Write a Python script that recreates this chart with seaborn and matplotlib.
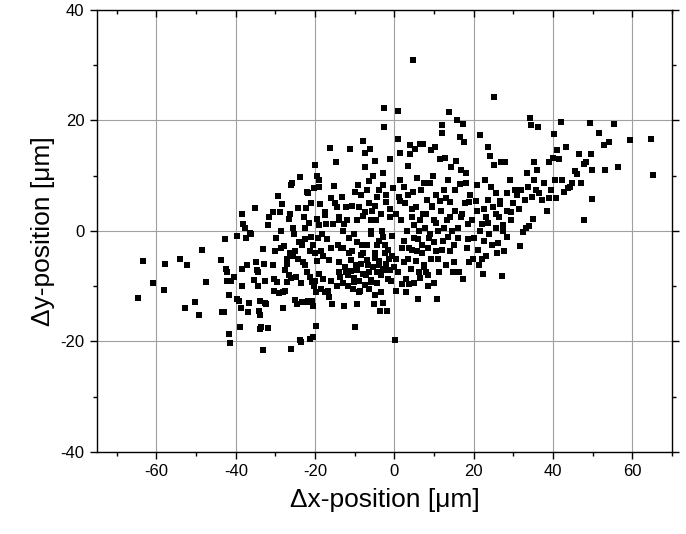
import numpy as np
import pandas as pd
import matplotlib
matplotlib.use("Agg")
import matplotlib.pyplot as plt
import matplotlib.lines as mlines
import seaborn as sns
from matplotlib.ticker import MultipleLocator

# left wing, x < -30
dx_a = [-64.6, -63.3, -60.8, -58.1, -57.8, -54.0, -52.9, -52.3, -50.2, -49.3,
        -48.5, -47.4, -43.8, -43.6, -43.1, -42.7, -42.5, -42.3, -42.3, -41.7,
        -41.7, -41.4, -41.2, -40.5, -39.8, -39.8, -39.2, -39.0, -38.7, -38.4,
        -38.4, -38.4, -38.1, -37.8, -37.5, -37.3, -37.0, -36.7, -36.5, -36.2,
        -35.4, -35.1, -34.9, -34.6, -34.5, -34.3, -34.1, -34.0, -33.8, -33.8,
        -33.6, -33.2, -33.1, -32.9, -32.7, -32.7, -32.4, -32.0, -31.8, -31.6,
        -30.7, -30.5, -30.4, -30.3, -30.2]
dy_a = [-12.2, -5.4, -9.5, -10.6, -5.9, -5.1, -14.0, -6.2, -12.9, -15.2,
        -3.4, -9.2, -5.3, -14.6, -14.7, -1.5, -6.8, -7.4, -9.0, -11.5,
        -18.6, -20.3, -9.0, -8.4, -12.4, -0.9, -12.7, -17.3, -13.9, -9.9,
        3.1, -6.9, 1.2, 0.5, -1.2, -6.2, -14.6, -13.0, -0.3, -0.6,
        -8.8, 4.1, -5.6, -7.1, -7.4, -9.9, -14.4, -15.2, -17.8, -12.7,
        -17.3, -3.3, -21.5, -5.9, -9.0, -13.0, -13.3, -17.6, 1.1, 2.5,
        3.5, -6.2, -8.7, -10.8, -3.7]

# -30 <= x < -15
dx_b = [-29.9, -29.6, -29.4, -29.2, -28.9, -28.5, -28.3, -28.1, -27.8, -27.7,
        -27.5, -27.2, -27.0, -26.7, -26.6, -26.4, -26.3, -26.1, -26.1, -25.9,
        -25.6, -25.2, -25.0, -24.8, -24.5, -24.4, -24.2, -23.9, -23.7, -23.5,
        -23.4, -23.3, -23.1, -22.9, -22.6, -22.5, -22.3, -22.1, -21.7, -21.7,
        -21.5, -21.3, -21.3, -21.2, -21.1, -20.9, -20.7, -20.5, -20.5, -20.3,
        -20.2, -20.1, -20.0, -19.8, -19.8, -19.6, -19.6, -19.3, -19.1, -19.0,
        -18.9, -18.7, -18.5, -18.3, -17.9, -17.6, -17.4, -17.2, -16.8, -16.5,
        -16.3, -16.1, -15.8, -15.6, -15.2, -15.0, -19.5, -18.0, -17.0, -16.0,
        -17.5, -16.0, -19.0, -21.0, -22.5, -24.0, -25.5, -27.0, -28.5, -26.0,
        -23.5, -22.0, -20.0, -18.5, -16.5, -28.0, -25.0, -22.0, -20.5]
dy_b = [-1.2, -9.2, 6.4, -11.3, 3.4, 0.0, 4.8, -11.1, -2.8, -10.9,
        -7.1, -5.0, -9.3, 2.2, -8.0, 3.0, -4.0, -21.3, 8.4, 8.7,
        0.6, -0.5, -3.7, -8.4, -13.3, -5.0, 4.1, 9.7, -19.8, -20.1,
        -12.9, -2.5, -5.6, 2.5, -6.2, -1.5, 4.1, 7.1, -12.7, 6.8,
        1.5, -8.4, -19.5, -3.7, 5.0, -12.7, -9.3, -19.2, -2.5, -9.9,
        7.7, -4.0, 12.0, -17.2, -11.1, 2.2, 10.0, -1.2, -7.7, 9.3,
        7.9, 4.8, -3.7, -0.6, -8.7, -11.1, 2.9, 1.2, -10.8, -5.3,
        15.0, -9.0, -13.3, 1.2, 8.2, 5.0, -5.5, -4.5, -1.5, -3.0,
        3.5, 6.0, 1.0, -1.0, 0.5, -2.0, -4.5, -6.0, -3.0, -8.5,
        -9.5, -7.5, -9.0, -10.5, -12.0, -14.0, -12.5, -12.8, -13.5]

# -15 <= x < 0
dx_c = [-14.8, -14.6, -14.3, -14.1, -13.9, -13.6, -13.2, -13.0, -12.8, -12.6,
        -12.3, -12.1, -11.9, -11.7, -11.4, -11.1, -11.0, -10.8, -10.6, -10.3,
        -10.2, -9.9, -9.7, -9.5, -9.4, -9.2, -8.9, -8.6, -8.4, -8.2,
        -8.0, -7.8, -7.5, -7.3, -7.1, -7.0, -6.7, -6.4, -6.2, -5.9,
        -5.8, -5.6, -5.4, -5.1, -4.9, -4.8, -4.6, -4.5, -4.3, -4.0,
        -3.8, -3.6, -3.4, -3.2, -2.9, -2.8, -2.6, -2.6, -2.5, -2.3,
        -2.1, -1.9, -1.6, -1.4, -1.2, -1.0, -0.8, -0.5, -0.3,
        -12.5, -11.8, -11.0, -10.2, -9.5, -9.0, -8.5, -8.0, -7.5, -7.0,
        -6.5, -6.0, -5.5, -5.0, -4.5, -4.0, -3.5, -3.0, -2.5, -2.0,
        -1.5, -1.0, -0.5, -0.2, -13.0, -14.0, -10.5, -9.0, -6.5, -5.0,
        -8.0, -7.0, -4.5, -3.0, -6.0, -9.5, -11.5, -13.5, -13.0, -14.0,
        -7.5, -6.0, -5.0, -3.5, -2.0, -1.0, -4.0, -8.5, -10.0, -6.5,
        -3.0, -14.5]
dy_c = [12.5, 4.3, -2.5, -5.6, 2.5, -8.4, 6.2, -3.1, -13.6, 1.2,
        4.3, -7.4, 1.9, -9.9, -1.2, 14.9, -5.3, -3.7, 4.6, -9.3,
        -0.6, -17.3, -6.2, 1.9, -13.3, 8.4, 4.3, -10.8, -4.3, -2.5,
        2.8, 16.2, 11.6, 14.1, -8.0, 7.4, -6.2, 5.0, 14.9, 0.0,
        -9.3, 3.7, 9.9, -13.3, 12.7, -4.0, 1.9, -7.4, 6.2, -1.9,
        -6.2, -14.4, -11.1, 0.0, 8.4, -13.0, 22.2, 18.9, -7.1, -2.5,
        5.3, -14.4, -8.7, -5.0, 2.5, 13.0, -9.0, -0.9, 7.7,
        -6.5, -8.0, -7.2, -8.5, -7.0, -9.0, -6.0, -7.8, -9.8, -5.2,
        -7.5, -8.8, -6.5, -4.8, -9.5, -5.5, -8.0, -6.8, -4.0, -6.0,
        -3.5, -7.0, -4.5, -6.5, -9.5, -7.5, -10.5, -11.0, -10.5, -11.5,
        -4.0, -2.5, -2.5, -1.0, -0.5, -2.0, -4.0, -3.0, 0.0, 2.0,
        3.5, 2.0, 4.5, 3.0, 6.5, 4.0, 7.5, 6.5, 7.0, 9.0,
        10.5, -10.0]

# 0 <= x < 15
dx_d = [0.1, 0.3, 0.5, 0.8, 1.0, 1.2, 1.4, 1.5, 1.7, 1.9,
        2.3, 2.5, 2.7, 3.0, 3.2, 3.4, 3.6, 3.8, 4.0, 4.0,
        4.3, 4.5, 4.7, 4.7, 4.9, 5.1, 5.4, 5.6, 5.8, 6.0,
        6.1, 6.3, 6.4, 6.7, 6.9, 7.1, 7.2, 7.4, 7.5, 7.8,
        8.0, 8.2, 8.4, 8.6, 8.9, 9.1, 9.3, 9.5, 9.7, 9.9,
        10.2, 10.4, 10.6, 10.8, 11.0, 11.3, 11.5, 11.7, 11.9, 12.1,
        12.3, 12.6, 12.8, 13.0, 13.2, 13.4, 13.7, 13.9, 14.1, 14.3,
        14.5, 14.8,
        0.5, 1.5, 2.5, 3.5, 4.5, 3.5, 4.5, 5.5, 6.0, 7.0,
        7.5, 8.5, 9.0, 10.0, 10.5, 11.0, 12.0, 12.5, 13.5, 14.0,
        5.0, 6.5, 8.0, 9.5, 11.5, 13.0, 6.5, 8.5, 10.0, 2.0,
        1.0, 3.0, 5.0]
dy_d = [-19.7, -5.0, -10.8, 16.7, 21.7, 6.2, 14.2, 9.3, 1.9, -9.6,
        -1.9, -5.6, 5.0, -8.7, 0.0, 11.8, -3.1, -9.6, 13.9, 15.5,
        -6.8, 2.5, 31.0, 7.1, -1.2, 14.9, 4.3, 9.6, -3.7, -12.3,
        -7.4, 0.0, 15.8, 7.4, -2.5, 15.8, 3.1, -6.2, 8.7, 0.6,
        -7.4, 5.6, -9.9, -1.2, 8.7, 14.6, -5.0, 4.3, 9.9, 1.9,
        15.2, -3.7, 6.5, -12.3, 0.0, -7.4, 13.0, 3.7, 17.8, 19.1,
        -1.9, 7.4, 13.3, -6.2, 1.9, 9.3, 21.5, -3.7, 5.3, 11.5,
        0.0, -7.4,
        3.0, 5.5, 8.0, 6.5, 4.0, -5.0, -3.5, -5.5, -1.5, -4.0,
        -6.5, -3.0, -0.5, -2.0, 1.5, -5.0, -3.5, 0.5, -1.0, 2.5,
        1.0, 2.0, 3.0, 4.5, 5.5, 6.0, -8.5, -8.0, -9.5, -3.0,
        -7.5, -11.0, -9.5]

# 15 <= x < 30
dx_e = [15.0, 15.2, 15.4, 15.6, 15.8, 16.1, 16.3, 16.5, 16.7, 16.9,
        17.2, 17.4, 17.6, 17.8, 18.0, 18.3, 18.5, 18.7, 18.9, 19.8,
        20.0, 20.7, 20.9, 21.3, 21.5, 22.0, 22.2, 22.4, 22.6, 22.8,
        23.1, 23.5, 23.7, 23.9, 24.2, 24.4, 24.8, 25.0, 25.2, 25.5,
        25.7, 25.9, 26.1, 26.3, 26.6, 27.0, 27.2, 27.4, 27.7, 28.0,
        28.3, 28.5, 29.1, 29.4, 29.8,
        17.0, 18.5, 19.5, 20.5, 21.5, 22.5, 23.5, 24.5, 25.5, 26.5,
        27.5, 28.5, 29.5, 21.0, 23.0, 19.0, 16.5, 18.0, 16.0, 15.0]
dy_e = [-5.6, 3.7, 7.4, 12.7, 20.1, -1.2, -7.4, 17.0, 2.5, 11.1,
        -8.7, 19.3, 16.1, 5.0, 8.7, -3.1, 1.2, -5.6, 5.3, -5.0,
        -1.2, 8.4, 3.7, -6.2, 17.3, 1.2, -5.0, -7.7, -1.9, 9.3,
        2.5, 15.2, 5.6, -0.6, 13.6, 8.0, 4.3, 24.3, 11.9, 0.6,
        6.8, -4.0, -2.2, 2.5, 4.8, 12.4, -8.2, 0.0, -3.6, 12.4,
        3.7, 6.8, 9.3, 1.9, 5.0,
        3.0, -1.5, 2.0, 5.5, 0.0, 4.0, 1.5, -2.5, 3.0, 5.5,
        1.0, -1.0, 3.5, -3.5, -4.5, 6.5, 8.5, 10.5, 0.5, -2.5]

# right wing, x >= 30
dx_f = [30.5, 30.9, 31.4, 31.6, 31.8, 32.3, 32.9, 33.1, 33.4, 33.8,
        34.0, 34.2, 34.4, 34.6, 34.9, 35.1, 35.3, 35.6, 36.0, 36.2,
        36.5, 37.3, 37.8, 38.4, 38.9, 39.1, 39.5, 40.0, 40.3, 40.5,
        40.8, 41.1, 41.6, 41.9, 42.2, 42.7, 43.3, 43.8, 44.4, 44.9,
        45.5, 46.0, 46.6, 47.1, 47.7, 47.9, 48.4, 49.3, 49.5, 49.7,
        49.9, 51.7, 52.8, 53.0, 54.2, 55.3, 56.3, 59.5, 64.6, 65.1]
dy_f = [7.4, 6.5, 4.0, -2.7, 7.4, -0.2, 5.6, 0.6, 10.5, 8.0,
        0.9, 20.4, 19.1, 6.2, 2.2, 12.4, 9.3, 7.4, 11.1, 18.9,
        6.8, 5.6, 8.7, 3.7, 12.4, 5.9, 7.4, 13.3, 17.6, 9.3,
        5.9, 14.6, 13.0, 19.8, 9.3, 7.1, 15.2, 7.7, 8.0, 8.7,
        10.8, 10.4, 13.9, 8.7, 12.1, 2.0, 12.4, 19.5, 13.9, 11.1,
        5.8, 17.8, 15.5, 11.1, 16.1, 19.3, 11.5, 16.4, 16.7, 10.2]

df = pd.DataFrame({
    "dx": dx_a + dx_b + dx_c + dx_d + dx_e + dx_f,
    "dy": dy_a + dy_b + dy_c + dy_d + dy_e + dy_f,
})

sns.set_theme(style="ticks")
plt.rcParams["font.family"] = ["Liberation Sans", "DejaVu Sans"]
plt.rcParams["axes.unicode_minus"] = False
plt.rcParams["text.color"] = "black"
plt.rcParams["axes.labelcolor"] = "black"
plt.rcParams["xtick.color"] = "black"
plt.rcParams["ytick.color"] = "black"

fig = plt.figure(figsize=(6.86, 5.34), dpi=100)
ax = fig.add_axes([0.1414, 0.1536, 0.8382, 0.8277])

sns.scatterplot(data=df, x="dx", y="dy", marker="s", s=21, color="black",
                linewidth=0, ax=ax, zorder=3)

ax.set_xlim(-75, 70)
ax.set_ylim(-40, 40)
ax.xaxis.set_major_locator(MultipleLocator(20))
ax.xaxis.set_minor_locator(MultipleLocator(10))
ax.yaxis.set_major_locator(MultipleLocator(20))
ax.yaxis.set_minor_locator(MultipleLocator(10))
ax.grid(which="major", color="#a0a0a0", linewidth=0.8)
ax.set_axisbelow(True)

for sp in ax.spines.values():
    sp.set_visible(True)
    sp.set_color("black")
    sp.set_linewidth(1.0)

ax.tick_params(which="both", direction="out", width=1.0, color="black",
               bottom=True, left=True, top=True, right=True,
               labeltop=False, labelright=False)
ax.tick_params(which="major", length=5, labelsize=12, pad=4)
ax.tick_params(which="minor", length=3)

ax.set_xlabel("\u0394x-position [\u03bcm]", fontsize=19, labelpad=6)
ax.set_ylabel("\u0394y-position [\u03bcm]", fontsize=19, labelpad=4)

# top ticks point into the plot
fig.canvas.draw()
for t in ax.xaxis.get_major_ticks() + ax.xaxis.get_minor_ticks():
    t.tick2line.set_marker(mlines.TICKDOWN)

fig.savefig("out.png", dpi=100)
